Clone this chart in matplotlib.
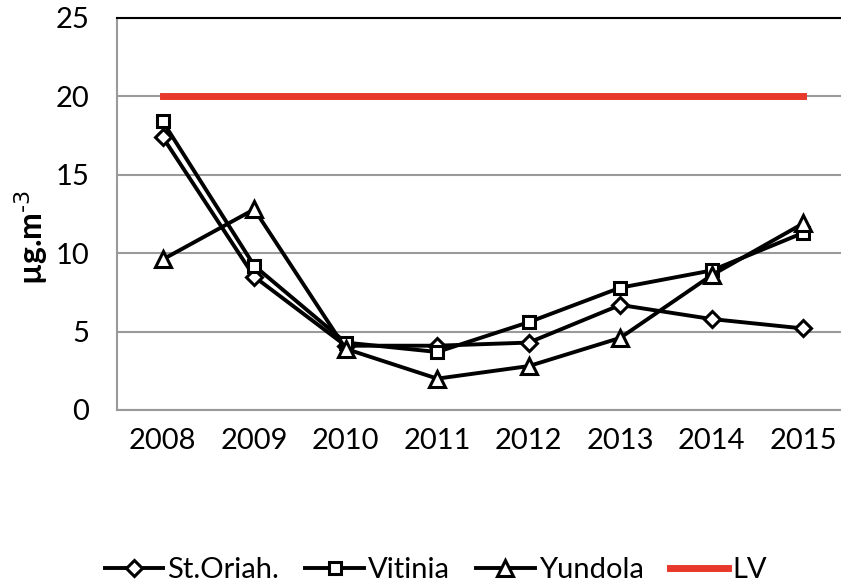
import matplotlib
matplotlib.use("Agg")
import matplotlib.pyplot as plt

years = ["2008", "2009", "2010", "2011", "2012", "2013", "2014", "2015"]
st_oriah = [17.4, 8.5, 4.1, 4.1, 4.3, 6.7, 5.8, 5.2]
vitinia = [18.4, 9.2, 4.3, 3.7, 5.6, 7.8, 8.9, 11.3]
yundola = [9.6, 12.8, 3.9, 2.0, 2.8, 4.6, 8.6, 11.9]
lv = [20] * len(years)

plt.rcParams['font.family'] = ['Lato', 'DejaVu Sans']

fig = plt.figure(figsize=(8.41, 5.86), dpi=100)
# plot area runs past the right edge of the picture, as in the reference
ax = fig.add_axes([117 / 841, 176 / 586, 732 / 841, 392 / 586])

x = list(range(len(years)))
ax.plot(x, st_oriah, color='black', lw=2.8, marker='D', ms=8, mfc='white',
        mec='black', mew=2.2, label='St.Oriah.', zorder=3)
ax.plot(x, vitinia, color='black', lw=2.8, marker='s', ms=9, mfc='white',
        mec='black', mew=2.2, label='Vitinia', zorder=3)
ax.plot(x, yundola, color='black', lw=2.8, marker='^', ms=11, mfc='white',
        mec='black', mew=2.2, label='Yundola', zorder=3)
ax.plot(x, lv, color='#e8382b', lw=5, label='LV', zorder=2)

ax.set_xlim(-0.5, 7.5)
ax.set_ylim(0, 25)
ax.set_yticks([0, 5, 10, 15, 20, 25])
ax.set_xticks(x)
ax.set_xticklabels(years)
ax.tick_params(axis='both', length=0, labelsize=21, colors='black')
ax.tick_params(axis='x', pad=13)
ax.tick_params(axis='y', pad=20)

ax.grid(axis='y', color='#9a9a9a', lw=1.5)
ax.set_axisbelow(True)
for side in ['left', 'bottom']:
    ax.spines[side].set_color('#9a9a9a')
    ax.spines[side].set_linewidth(1.5)
ax.spines['right'].set_visible(False)
ax.spines['top'].set_color('black')
ax.spines['top'].set_linewidth(1.5)

ax.set_ylabel(r'µg.m$^{\text{-3}}$', fontsize=23, fontweight='bold')
ax.yaxis.set_label_coords(-0.092, 0.44)

fig.legend(loc='center', bbox_to_anchor=(436 / 841, 1 - 570 / 586), ncol=4,
           frameon=False, fontsize=21, handlelength=2.0, handletextpad=0.15,
           columnspacing=0.9)

fig.savefig('out.png', dpi=100)
